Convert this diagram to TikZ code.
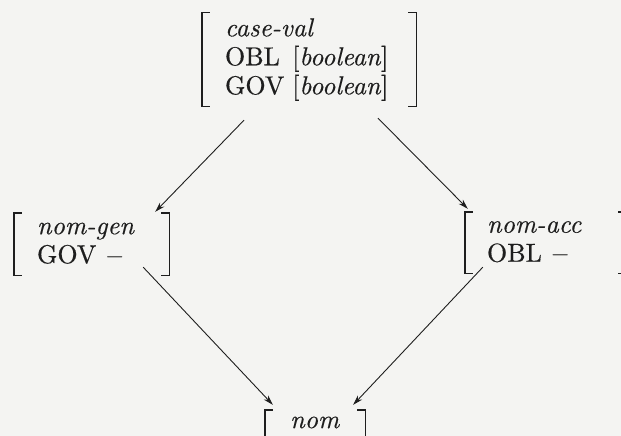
\documentclass[tikz,border=0pt]{standalone}
\usepackage{fontspec}
\setmainfont{lmroman10-regular}[Extension=.otf, ItalicFont=lmroman10-italic, FakeBold=0.4]
\usetikzlibrary{arrows.meta}
\definecolor{ink}{HTML}{1E1E1E}
\definecolor{paper}{HTML}{F4F4F2}
\tikzset{
  avm/.style={inner xsep=23pt, inner ysep=0pt, align=left, text=ink,
    font=\fontsize{26}{29}\selectfont},
  brk/.style={draw=ink, line width=1.4pt},
  arr/.style={draw=ink, line width=0.9pt, -{Stealth[length=10pt,width=6pt]}},
}
\newcommand\avmbr[1]{%
  \draw[brk] ([xshift=8pt]#1.north west) -- (#1.north west) -- (#1.south west) -- ([xshift=8pt]#1.south west);
  \draw[brk] ([xshift=-8pt]#1.north east) -- (#1.north east) -- (#1.south east) -- ([xshift=-8pt]#1.south east);}
\begin{document}
\begin{tikzpicture}[x=1pt,y=1pt]
\fill[paper] (0,0) rectangle (621,-436);
\useasboundingbox (0,0) rectangle (621,-436);
\begin{scope}
\clip (0,0) rectangle (621,-436);
\node[avm, text width=168pt, minimum height=93pt] (cv) at (309,-59.5)
  {\renewcommand\arraystretch{1.0}\begin{tabular}{@{}l@{\hspace{0.3em}}l@{}}
   \multicolumn{2}{@{}l@{}}{\textit{case-val}}\\
   OBL & [\textit{boolean}]\\
   GOV & [\textit{boolean}]
   \end{tabular}};
\node[avm, text width=109pt, minimum height=62pt] (ng) at (91.5,-244)
  {\textit{nom-gen}\\GOV $-$};
\node[avm, inner xsep=22pt, text width=117pt, minimum height=61pt] (na) at (545.5,-242.5)
  {\textit{nom-acc}\\OBL $-$};
\node[avm, align=center, text width=54pt, minimum height=25pt] (nom) at (315,-422.5)
  {\textit{nom}};
\avmbr{cv}
\avmbr{ng}
\avmbr{na}
\draw[brk] ([xshift=8pt]nom.north west) -- (nom.north west) -- ++(0,-40pt);
\draw[brk] ([xshift=-8pt]nom.north east) -- (nom.north east) -- ++(0,-40pt);
\draw[arr] ([shift={(-65pt,-14pt)}]cv.south) -- ([shift={(-14pt,1pt)}]ng.north east);
\draw[arr] ([shift={(69pt,-12pt)}]cv.south) -- ([shift={(3pt,3pt)}]na.north west);
\draw[arr] ([shift={(-26pt,8pt)}]ng.south east) -- ([shift={(8pt,5pt)}]nom.north west);
\draw[arr] ([shift={(18pt,6pt)}]na.south west) -- ([shift={(-12pt,5pt)}]nom.north east);
\end{scope}
\end{tikzpicture}
\end{document}
